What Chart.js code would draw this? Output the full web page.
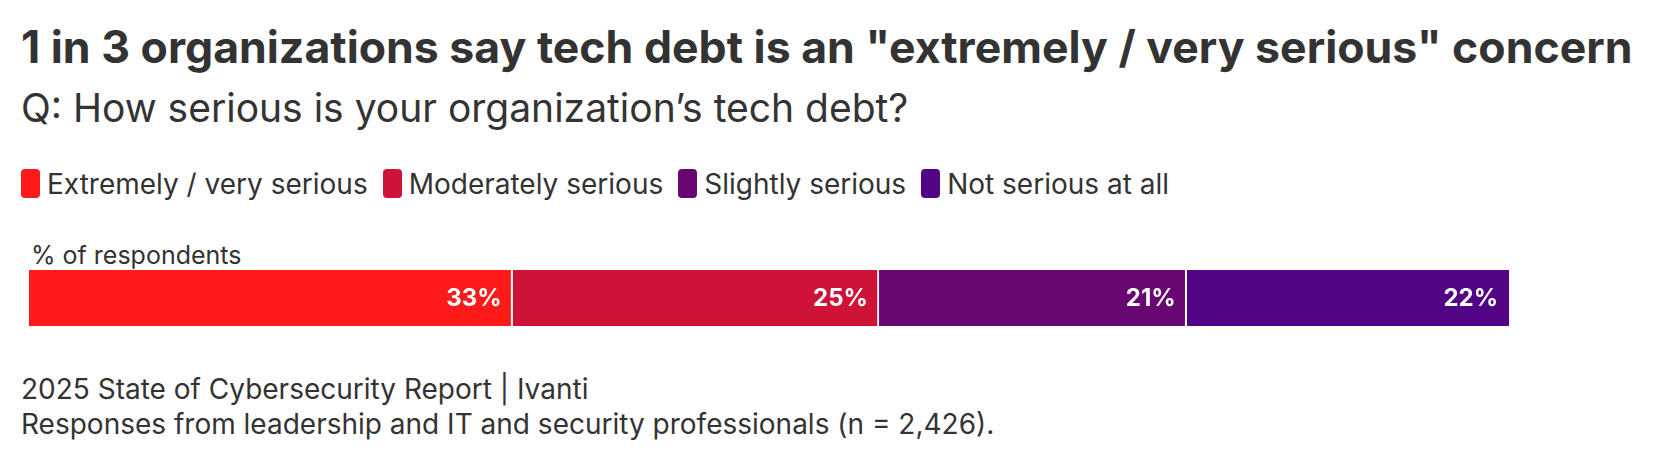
<!DOCTYPE html>
<html>
<head>
<meta charset="utf-8">
<script src="https://cdn.jsdelivr.net/npm/chart.js@4"></script>
<style>
  html, body { margin: 0; padding: 0; background: #fff; }
  body { width: 1668px; height: 456px; position: relative; overflow: hidden; font-family: Inter, "Noto Sans", sans-serif; color: #333; }
  .t { position: absolute; white-space: nowrap; line-height: 1; }
  #title { left: 21px; top: 25px; font-size: 44.6px; font-weight: 700; }
  #sub { left: 21px; top: 88px; font-size: 39px; font-weight: 400; }
  #legend { left: 21px; top: 169px; font-size: 28px; display: flex; align-items: center; }
  #legend .item { display: flex; align-items: center; margin-right: 15px; }
  #legend .box { width: 19px; height: 29px; border-radius: 4px; margin-right: 7px; }
  #unit { left: 31px; top: 243px; font-size: 25px; }
  #foot { left: 21px; top: 372px; font-size: 28px; line-height: 35px; }
  #wrap { position: absolute; left: 29px; top: 270px; width: 1480px; height: 56px; }
</style>
</head>
<body>
<div class="t" id="title">1 in 3 organizations say tech debt is an "extremely / very serious" concern</div>
<div class="t" id="sub">Q: How serious is your organization’s tech debt?</div>
<div class="t" id="legend"></div>
<div class="t" id="unit">% of respondents</div>
<div class="t" id="foot">2025 State of Cybersecurity Report | Ivanti<br>Responses from leadership and IT and security professionals (n = 2,426).</div>
<div id="wrap"><canvas id="chart"></canvas></div>
<script>
const categories = ['Extremely / very serious', 'Moderately serious', 'Slightly serious', 'Not serious at all'];
const values = [33, 25, 21, 22];
const colors = ['#ff1a1a', '#cf1237', '#680672', '#520486'];

// legend in html
const legend = document.getElementById('legend');
categories.forEach((c, i) => {
  const item = document.createElement('div');
  item.className = 'item';
  item.innerHTML = '<span class="box" style="background:' + colors[i] + '"></span>' + c;
  legend.appendChild(item);
});

const total = values.reduce((a, b) => a + b, 0);

// value labels at the end of each segment
const endLabels = {
  id: 'endLabels',
  afterDatasetsDraw(chart) {
    const ctx = chart.ctx;
    ctx.save();
    ctx.font = '700 24px Inter, sans-serif';
    ctx.fillStyle = '#fff';
    ctx.textAlign = 'right';
    ctx.textBaseline = 'middle';
    chart.data.datasets.forEach((ds, i) => {
      const bar = chart.getDatasetMeta(i).data[0];
      ctx.fillText(ds.data[0] + '%', bar.x - 11, bar.y + 1);
    });
    ctx.restore();
  }
};

new Chart(document.getElementById('chart'), {
  type: 'bar',
  data: {
    labels: [''],
    datasets: categories.map((c, i) => ({
      label: c,
      data: [values[i]],
      backgroundColor: colors[i],
      borderColor: '#fff',
      borderWidth: i < categories.length - 1 ? { right: 2 } : 0,
      borderSkipped: false,
      barPercentage: 1,
      categoryPercentage: 1
    }))
  },
  options: {
    indexAxis: 'y',
    responsive: true,
    maintainAspectRatio: false,
    animation: false,
    layout: { padding: 0 },
    plugins: { legend: { display: false }, tooltip: { enabled: false } },
    scales: {
      x: { stacked: true, min: 0, max: total, display: false },
      y: { stacked: true, display: false }
    }
  },
  plugins: [endLabels]
});
</script>
</body>
</html>
